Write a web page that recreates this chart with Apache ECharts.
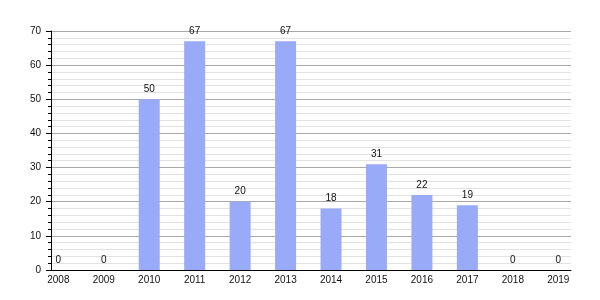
<!DOCTYPE html>
<html><head><meta charset="utf-8">
<script src="https://cdn.jsdelivr.net/npm/echarts@6/dist/echarts.min.js"></script>
<style>html,body{margin:0;padding:0;background:#fff}#c{width:600px;height:300px}</style>
</head><body><div id="c"></div>
<script>
const categories = ['2008','2009','2010','2011','2012','2013','2014','2015','2016','2017','2018','2019'];
const values = [0, 0, 50, 67, 20, 67, 18, 31, 22, 19, 0, 0];
const yMin = 0, yMax = 70, yStep = 10;

const font = '"Liberation Sans", Arial, sans-serif';
const chart = echarts.init(document.getElementById('c'), null, {renderer: 'canvas'});
chart.setOption({
  animation: false,
  backgroundColor: '#fff',
  grid: [
    {left: 51, right: 29, top: 31, bottom: 30},
    {left: 35.6, right: 19, top: 31, bottom: 30}
  ],
  xAxis: [
    {gridIndex: 0, type: 'value', min: 0, max: 1, axisLabel: {show: false}, axisTick: {show: false},
     splitLine: {show: false}, axisLine: {show: true, lineStyle: {color: '#000', width: 1}}},
    {gridIndex: 1, type: 'category', data: categories, boundaryGap: true,
     axisLine: {show: false}, axisTick: {show: false}, splitLine: {show: false},
     axisLabel: {color: '#111', fontSize: 10, fontFamily: font, margin: 5}}
  ],
  yAxis: [
    {gridIndex: 0, type: 'value', min: yMin, max: yMax, interval: yStep,
     axisLine: {show: true, lineStyle: {color: '#000', width: 1}},
     axisTick: {show: true, length: 5, lineStyle: {color: '#000'}},
     minorTick: {show: true, splitNumber: 5, length: 3, lineStyle: {color: '#000'}},
     splitLine: {show: true, lineStyle: {color: '#a8a8a8', width: 1}},
     minorSplitLine: {show: true, lineStyle: {color: '#e2e2e2', width: 1}},
     axisLabel: {color: '#111', fontSize: 10, fontFamily: font, margin: 10}},
    {gridIndex: 1, type: 'value', min: yMin, max: yMax, show: false, splitLine: {show: false}}
  ],
  series: [{
    type: 'bar', xAxisIndex: 1, yAxisIndex: 1, data: values, barWidth: 21,
    itemStyle: {color: '#99aaf9'},
    label: {show: true, position: 'top', distance: 5, color: '#111', fontSize: 10, fontFamily: font}
  }]
});
</script></body></html>
